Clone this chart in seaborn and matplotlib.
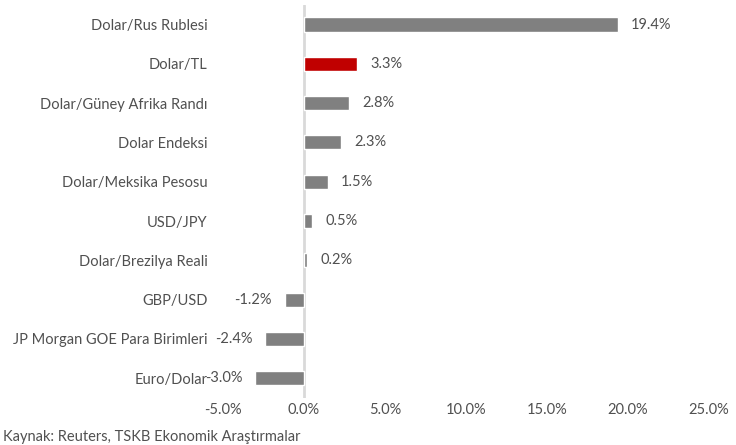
import numpy as np
import matplotlib.pyplot as plt
import seaborn as sns
import pandas as pd
from matplotlib.ticker import FuncFormatter

# degisim verileri (%)
kurlar = ['Dolar/Rus Rublesi', 'Dolar/TL', 'Dolar/Güney Afrika Randı', 'Dolar Endeksi',
          'Dolar/Meksika Pesosu', 'USD/JPY', 'Dolar/Brezilya Reali', 'GBP/USD',
          'JP Morgan GOE Para Birimleri', 'Euro/Dolar']
degisim = [19.4, 3.3, 2.8, 2.3, 1.5, 0.5, 0.2, -1.2, -2.4, -3.0]
x_ticks = [-5, 0, 5, 10, 15, 20, 25]
kaynak = 'Kaynak: Reuters, TSKB Ekonomik Araştırmalar'

sns.set_style('white')
plt.rcParams['font.family'] = ['Lato', 'DejaVu Sans']
metin = '#505050'
fs = 10.5

df = pd.DataFrame({'kur': kurlar, 'degisim': degisim})
renkler = ['#c00000' if k == 'Dolar/TL' else '#808080' for k in kurlar]

fig = plt.figure(figsize=(7.36, 4.45), dpi=100)
ax = fig.add_axes([0.303, 0.106, 0.660, 0.883])
sns.barplot(data=df, x='degisim', y='kur', hue='kur', palette=renkler,
            orient='h', width=0.36, legend=False, saturation=1, ax=ax)

ax.set_xlim(-5, 25)
ax.set_xticks(x_ticks)
ax.xaxis.set_major_formatter(FuncFormatter(lambda v, p: f'{v:.1f}%'))
ax.set_xlabel('')
ax.set_ylabel('')
for s in ax.spines.values():
    s.set_visible(False)
ax.axvline(0, color='#d9d9d9', lw=2, zorder=0)
ax.tick_params(axis='both', length=0, labelsize=fs, colors=metin)
ax.tick_params(axis='x', pad=4)
ax.tick_params(axis='y', pad=11)

for i, v in enumerate(degisim):
    if v >= 0:
        ax.text(v + 0.8, i, f'{v:.1f}%', va='center', ha='left', fontsize=fs, color=metin)
    else:
        ax.text(v - 0.8, i, f'{v:.1f}%', va='center', ha='right', fontsize=fs, color=metin)

fig.text(0.004, 0.003, kaynak, fontsize=fs, color=metin, ha='left', va='bottom')

fig.savefig('out.png', dpi=100)
